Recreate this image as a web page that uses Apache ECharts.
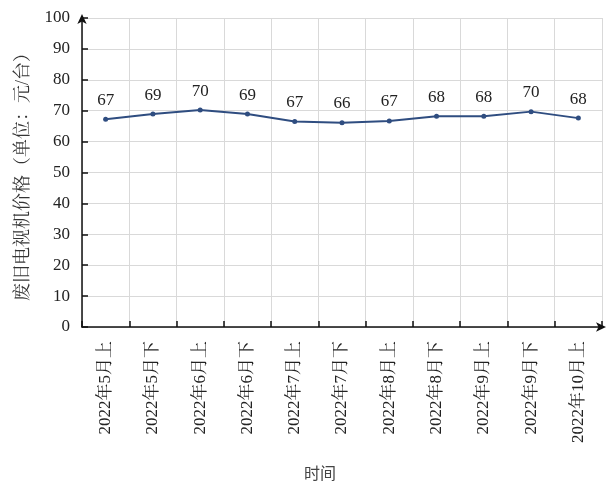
<!DOCTYPE html>
<html>
<head>
<meta charset="utf-8">
<script src="https://cdn.jsdelivr.net/npm/echarts@6/dist/echarts.min.js"></script>
<style>html,body{margin:0;padding:0;background:#fff;}#c{width:615px;height:493px;}</style>
</head>
<body>
<div id="c"></div>
<script>
var categories = ['2022年5月上','2022年5月下','2022年6月上','2022年6月下','2022年7月上','2022年7月下','2022年8月上','2022年8月下','2022年9月上','2022年9月下','2022年10月上'];
var prices = [67.2, 68.9, 70.2, 68.9, 66.5, 66.1, 66.7, 68.2, 68.2, 69.7, 67.6];
var yTicks = { min: 0, max: 100, interval: 10 };
var yName = '废旧电视机价格（单位：元/台）';
var xName = '时间';

var serif = '"Liberation Serif","Noto Serif CJK SC","Noto Sans CJK SC",serif';
var chart = echarts.init(document.getElementById('c'));
chart.setOption({
  animation: false,
  backgroundColor: '#fff',
  grid: { left: 82, right: 13, top: 18, bottom: 166, containLabel: false, outerBoundsMode: 'none' },
  xAxis: {
    type: 'category',
    data: categories,
    boundaryGap: true,
    name: xName,
    nameLocation: 'middle',
    nameGap: 138,
    nameTextStyle: { fontFamily: '"Noto Sans CJK SC",sans-serif', fontSize: 16, color: '#444', padding: [0, 44, 0, 0] },
    axisLine: { show: true, lineStyle: { color: '#111', width: 1.5 }, symbol: ['none', 'arrow'], symbolSize: [7, 10], symbolOffset: [0, 4] },
    axisTick: { show: true, inside: true, length: 6, alignWithLabel: false, lineStyle: { color: '#111', width: 1.5 } },
    splitLine: { show: true, lineStyle: { color: '#d9d9d9', width: 1 } },
    axisLabel: { rotate: 90, margin: 14, fontSize: 17, color: '#222', fontFamily: serif, interval: 0 }
  },
  yAxis: {
    type: 'value',
    min: yTicks.min,
    max: yTicks.max,
    interval: yTicks.interval,
    name: yName,
    nameLocation: 'middle',
    nameGap: 50,
    nameTextStyle: { fontFamily: serif, fontSize: 18, color: '#333' },
    axisLine: { show: true, lineStyle: { color: '#111', width: 1.5 }, symbol: ['none', 'arrow'], symbolSize: [7, 10], symbolOffset: [0, 4] },
    axisTick: { show: true, inside: true, length: 6, lineStyle: { color: '#111', width: 1.5 } },
    splitLine: { show: true, lineStyle: { color: '#d9d9d9', width: 1 } },
    axisLabel: { margin: 12, fontSize: 17, color: '#222', fontFamily: serif }
  },
  series: [{
    type: 'line',
    data: prices,
    symbol: 'circle',
    symbolSize: 5,
    lineStyle: { color: '#2f4d80', width: 2 },
    itemStyle: { color: '#2f4d80' },
    label: {
      show: true,
      position: 'top',
      distance: 8,
      fontSize: 17,
      color: '#222',
      fontFamily: serif,
      formatter: function (p) { return Math.round(p.value); }
    }
  }]
});
</script>
</body>
</html>
